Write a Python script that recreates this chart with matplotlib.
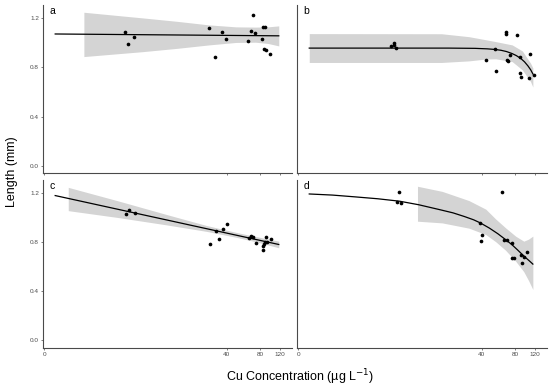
import numpy as np
import matplotlib
matplotlib.use("Agg")
import matplotlib.pyplot as plt

plt.rcParams['font.family'] = ['Liberation Sans', 'DejaVu Sans']

# ---------------- data (Cu concentration in ug/L, length in mm) ----------------
a_x = [4.2, 4.5, 5.2, 27.8, 31.3, 36.3, 39.7, 62.2, 65.7, 68.4, 72.3, 83.5, 84.0, 88.8, 86.5, 90.7, 97.8]
a_y = [1.089, 0.988, 1.05, 1.124, 0.885, 1.091, 1.029, 1.015, 1.094, 1.227, 1.08, 1.029, 1.127, 1.13, 0.953, 0.942, 0.907]
a_fit_x = [0.25, 117]
a_fit_y = [1.072, 1.057]
a_ci_x = [1.24, 3.06, 6.39, 13.9, 27.5, 48.4, 72.7, 93.6, 117]
a_ci_lo = [0.888, 0.908, 0.928, 0.955, 0.983, 1.003, 1.005, 0.995, 0.975]
a_ci_hi = [1.249, 1.226, 1.203, 1.175, 1.146, 1.13, 1.128, 1.13, 1.138]

b_x = [5.6, 5.9, 6.0, 6.3, 43.6, 52.5, 53.6, 66.2, 66.7, 68.0, 69.5, 72.3, 83.0, 87.7, 88.1, 90.6, 105.4, 107.5, 118.0]
b_y = [0.972, 0.98, 0.997, 0.961, 0.863, 0.948, 0.774, 1.086, 1.075, 0.858, 0.85, 0.899, 1.067, 0.882, 0.752, 0.72, 0.714, 0.907, 0.741]
b_fit_x = [0.25, 20, 35, 45, 53, 60, 67, 75, 82, 90, 97, 104, 110, 115]
b_fit_y = [0.957, 0.957, 0.955, 0.951, 0.946, 0.939, 0.929, 0.913, 0.896, 0.872, 0.845, 0.812, 0.78, 0.747]
b_ci_x = [0.25, 17.2, 30.8, 43.7, 53.6, 75.3, 92.7, 109.7, 115]
b_ci_lo = [0.84, 0.84, 0.853, 0.868, 0.87, 0.847, 0.78, 0.684, 0.64]
b_ci_hi = [1.075, 1.074, 1.05, 1.025, 1.01, 0.983, 0.934, 0.834, 0.795]

c_x = [4.25, 4.63, 5.36, 28.2, 31.7, 34.1, 37.0, 40.3, 63.5, 66.2, 69.4, 73.8, 84.0, 85.2, 86.4, 88.8, 90.1, 92.6, 99.9]
c_y = [1.032, 1.067, 1.042, 0.79, 0.896, 0.828, 0.909, 0.947, 0.833, 0.849, 0.844, 0.795, 0.768, 0.735, 0.787, 0.806, 0.841, 0.8, 0.828]
c_fit_x = [0.25, 117]
c_fit_y = [1.181, 0.782]
c_ci_x = [0.63, 3.48, 11.2, 26.1, 48.4, 72.7, 117]
c_ci_lo = [1.058, 1.002, 0.941, 0.889, 0.841, 0.805, 0.755]
c_ci_hi = [1.248, 1.138, 1.025, 0.937, 0.881, 0.847, 0.809]

d_x = [6.4, 6.7, 7.0, 39.0, 40.6, 39.8, 61.4, 64.0, 67.2, 74.9, 74.9, 78.5, 90.6, 91.9, 96.3, 101.1]
d_y = [1.129, 1.213, 1.121, 0.958, 0.863, 0.809, 1.213, 0.822, 0.822, 0.792, 0.673, 0.668, 0.7, 0.627, 0.681, 0.719]
d_fit_x = [0.25, 1.0, 2.2, 4.0, 6.8, 10.5, 16.4, 22.0, 28.0, 34.0, 39.0, 47.0, 56.0, 65.7, 75.0, 84.0, 92.7, 100.0, 108.0, 115]
d_fit_y = [1.194, 1.185, 1.17, 1.155, 1.135, 1.106, 1.067, 1.04, 1.01, 0.983, 0.958, 0.916, 0.87, 0.822, 0.78, 0.738, 0.70, 0.672, 0.645, 0.622]
d_ci_x = [10.2, 17.5, 30.8, 43.7, 53.6, 65.7, 80.8, 95.5, 105, 115]
d_ci_lo = [0.972, 0.958, 0.915, 0.863, 0.805, 0.735, 0.646, 0.56, 0.49, 0.415]
d_ci_hi = [1.257, 1.215, 1.14, 1.07, 0.99, 0.918, 0.85, 0.809, 0.825, 0.85]

panel_letters = ['a', 'b', 'c', 'd']
x_ticks = [0, 40, 80, 120]
y_ticks = [0.0, 0.4, 0.8, 1.2]
x_label = 'Cu Concentration (\u00b5g L$^{-1}$)'
y_label = 'Length (mm)'

# ---------------- figure ----------------
W, H = 550, 389
fig = plt.figure(figsize=(W / 100, H / 100), dpi=100)

def frac(left, top, right, bottom):
    return [left / W, 1 - bottom / H, (right - left) / W, (bottom - top) / H]

rects = [frac(43, 5, 292, 173), frac(297, 5, 547, 173),
         frac(43, 180, 292, 347.7), frac(297, 180, 547, 347.7)]
data = [(a_x, a_y, a_fit_x, a_fit_y, a_ci_x, a_ci_lo, a_ci_hi),
        (b_x, b_y, b_fit_x, b_fit_y, b_ci_x, b_ci_lo, b_ci_hi),
        (c_x, c_y, c_fit_x, c_fit_y, c_ci_x, c_ci_lo, c_ci_hi),
        (d_x, d_y, d_fit_x, d_fit_y, d_ci_x, d_ci_lo, d_ci_hi)]

axis_col = '#4a4a4a'
for i, (rect, (px, py, fx, fy, cx, clo, chi)) in enumerate(zip(rects, data)):
    ax = fig.add_axes(rect)
    ax.set_xscale('function', functions=(np.log1p, np.expm1))
    ax.fill_between(cx, clo, chi, color='#d4d4d4', lw=0, zorder=1)
    ax.plot(fx, fy, color='black', lw=0.9, zorder=2, solid_joinstyle='round')
    ax.scatter(px, py, s=7, color='black', lw=0, zorder=3)
    ax.set_xlim(np.expm1(-0.025), np.expm1(5.04))
    ax.set_ylim(-0.06, 1.308)
    ax.set_xticks(x_ticks)
    ax.set_yticks(y_ticks)
    ax.set_xticklabels([str(t) for t in x_ticks])
    ax.set_yticklabels(['%.1f' % t for t in y_ticks])
    ax.minorticks_off()
    for s in ['top', 'right']:
        ax.spines[s].set_visible(False)
    for s in ['left', 'bottom']:
        ax.spines[s].set_color(axis_col)
        ax.spines[s].set_linewidth(0.8)
    ax.tick_params(axis='both', length=1.6, width=0.5, color=axis_col,
                   labelsize=4.6, labelcolor='#4d4d4d', pad=1.2)
    if i < 2:
        ax.tick_params(axis='x', labelbottom=False)
    if i % 2 == 1:
        ax.tick_params(axis='y', left=False, labelleft=False)
    ax.text(9 / (rect[2] * W), 1 - 6 / (rect[3] * H), panel_letters[i],
            transform=ax.transAxes, ha='center', va='center', fontsize=7.5, color='black')

fig.text(12 / W, 1 - 172 / H, y_label, rotation=90, ha='center', va='center', fontsize=9)
fig.text(300 / W, 1 - 377 / H, x_label, ha='center', va='center', fontsize=9)

fig.savefig('out.png', dpi=100)
